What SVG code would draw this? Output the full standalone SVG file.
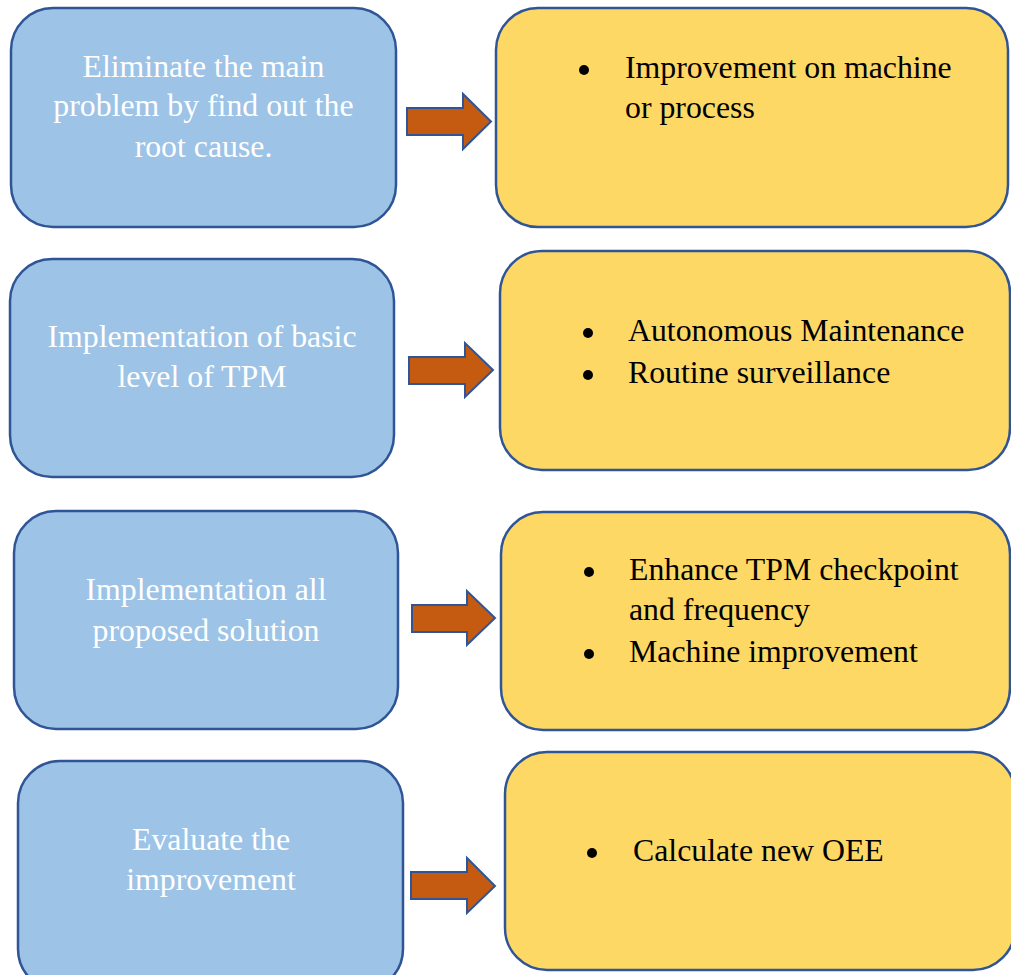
<svg xmlns="http://www.w3.org/2000/svg" width="1011" height="975" viewBox="0 0 1011 975">
  <style>
    .step { fill: #9DC3E6; stroke: #2F5597; stroke-width: 2.5; }
    .result { fill: #FDD865; stroke: #2F5597; stroke-width: 2.5; }
    .arrow { fill: #C55A11; stroke: #2F5597; stroke-width: 2; stroke-linejoin: miter; }
    .st { font-family: "Liberation Serif", "Times New Roman", serif; font-size: 31.8px; fill: #FFFFFF; text-anchor: middle; }
    .rt { font-family: "Liberation Serif", "Times New Roman", serif; font-size: 31.8px; fill: #000000; }
    .dot { fill: #000000; }
  </style>
  <rect width="1011" height="975" fill="#FFFFFF"/>

  <!-- Row 1 -->
  <g id="step1">
    <rect class="step" x="11" y="8" width="385" height="219" rx="42"/>
    <text class="st" x="203.5" y="77">Eliminate the main</text>
    <text class="st" x="203.5" y="116">problem by find out the</text>
    <text class="st" x="203.5" y="157">root cause.</text>
  </g>
  <g id="result1">
    <rect class="result" x="496" y="8" width="512" height="219" rx="42"/>
    <circle class="dot" cx="584" cy="70" r="5"/>
    <text class="rt" x="625" y="78">Improvement on machine</text>
    <text class="rt" x="625" y="118">or process</text>
  </g>

  <!-- Row 2 -->
  <g id="step2">
    <rect class="step" x="10" y="259" width="384" height="218" rx="42"/>
    <text class="st" x="202" y="347">Implementation of basic</text>
    <text class="st" x="202" y="387">level of TPM</text>
  </g>
  <g id="result2">
    <rect class="result" x="500" y="251" width="510" height="219" rx="42"/>
    <circle class="dot" cx="588" cy="333" r="5"/>
    <text class="rt" x="628" y="341">Autonomous Maintenance</text>
    <circle class="dot" cx="588" cy="375" r="5"/>
    <text class="rt" x="628" y="383">Routine surveillance</text>
  </g>

  <!-- Row 3 -->
  <g id="step3">
    <rect class="step" x="14" y="511" width="384" height="218" rx="42"/>
    <text class="st" x="206" y="600">Implementation all</text>
    <text class="st" x="206" y="641">proposed solution</text>
  </g>
  <g id="result3">
    <rect class="result" x="501" y="512" width="509" height="218" rx="42"/>
    <circle class="dot" cx="589" cy="572" r="5"/>
    <text class="rt" x="629" y="580">Enhance TPM checkpoint</text>
    <text class="rt" x="629" y="620">and frequency</text>
    <circle class="dot" cx="589" cy="654" r="5"/>
    <text class="rt" x="629" y="662">Machine improvement</text>
  </g>

  <!-- Row 4 -->
  <g id="step4">
    <rect class="step" x="18" y="761" width="385" height="230" rx="42"/>
    <text class="st" x="211" y="850">Evaluate the</text>
    <text class="st" x="211" y="890">improvement</text>
  </g>
  <g id="result4">
    <rect class="result" x="505" y="752" width="510" height="218" rx="42"/>
    <circle class="dot" cx="592" cy="853" r="5"/>
    <text class="rt" x="633" y="861">Calculate new OEE</text>
  </g>

  <!-- Block arrows between columns -->
  <g id="connectors">
    <path class="arrow" d="M407,108 H463 V94 L491,121.5 L463,149 V135 H407 Z"/>
    <path class="arrow" d="M409,357 H465 V343 L493,370 L465,397 V384 H409 Z"/>
    <path class="arrow" d="M412,605 H467 V591 L495,618 L467,645 V632 H412 Z"/>
    <path class="arrow" d="M411,872 H467 V858 L495,886 L467,913 V899 H411 Z"/>
  </g>
</svg>
